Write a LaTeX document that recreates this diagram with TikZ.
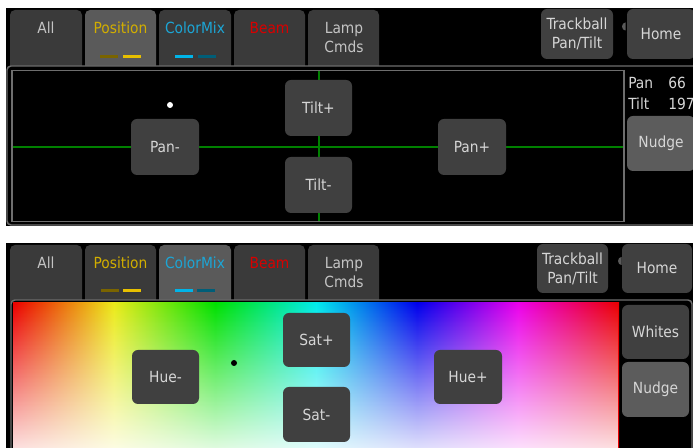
\documentclass[tikz,border=0pt]{standalone}
\usepackage{fontspec}
\setmainfont{DejaVu Sans Condensed}
\usetikzlibrary{fadings}
\definecolor{tabbg}{HTML}{3A3A3A}
\definecolor{tabact}{HTML}{5A5A5A}
\definecolor{btnbg}{HTML}{404040}
\definecolor{btnlt}{HTML}{5C5C5C}
\definecolor{framec}{HTML}{6E6E6E}
\definecolor{txt}{HTML}{D6D6D6}
\definecolor{tabtxt}{HTML}{C4C4C4}
\definecolor{posc}{HTML}{D2AE00}
\definecolor{cmc}{HTML}{1CA6D6}
\definecolor{beamc}{HTML}{D80000}
\definecolor{oliveb}{HTML}{7A6400}
\definecolor{yelb}{HTML}{E8C000}
\definecolor{cyanb}{HTML}{00B4E8}
\definecolor{tealb}{HTML}{005E78}
\definecolor{grn}{HTML}{008000}
\definecolor{hR}{rgb}{0.92,0,0}
\definecolor{hY}{rgb}{0.92,0.92,0.1}
\definecolor{hG}{rgb}{0,0.88,0}
\definecolor{hC}{rgb}{0,0.92,0.92}
\definecolor{hB}{rgb}{0,0,0.92}
\definecolor{hM}{rgb}{0.92,0,0.92}
\pgfdeclarehorizontalshading{huebar}{100bp}{color(0bp)=(hR); color(25bp)=(hR); color(33.33bp)=(hY); color(41.67bp)=(hG); color(50bp)=(hC); color(58.33bp)=(hB); color(66.67bp)=(hM); color(75bp)=(hR); color(100bp)=(hR)}
\tikzset{
  wh/.style 2 args={minimum width=#1*0.75pt, minimum height=#2*0.75pt},
  tabbox/.style={fill=tabbg, rounded corners=3.75pt, inner sep=0pt},
  tabon/.style={tabbox, fill=tabact},
  btn/.style={fill=btnbg, rounded corners=4.5pt, inner sep=0pt, text=txt, align=center, font=\fontsize{11.5}{14.25}\selectfont},
  btnlight/.style={btn, fill=btnlt},
  lbl/.style={inner sep=0pt, align=center, font=\fontsize{11.5}{14.25}\selectfont},
  bar/.style={inner sep=0pt, wh={18}{3}},
  frameline/.style={draw=framec, line width=1.1pt},
  cross/.style={draw=grn, line width=1.5pt},
  notch/.style={fill=tabact}
}
\begin{document}
\begin{tikzpicture}[x=0.75pt,y=-0.75pt]
\useasboundingbox (0,0) rectangle (693,448);
\fill[white] (0,0) rectangle (693,448);
% ================= TOP PANEL =================
\fill[black] (6,8) rectangle (693,226);
\node[tabbox, wh={72}{62}] (tAll) at (46,41) {};
\node[tabon,  wh={71}{62}] (tPos) at (120.5,41) {};
\node[tabbox, wh={72}{62}] (tCM) at (195,41) {};
\node[tabbox, wh={71}{62}] (tBeam) at (269.5,41) {};
\node[tabbox, wh={71}{62}] (tLamp) at (343.5,41) {};
\node[lbl, text=tabtxt] (tAllT) at (46,28) {All};
\node[lbl, text=posc] (tPosT) at (120.5,28) {Position};
\node[lbl, text=cmc] (tCMT) at (195,28) {ColorMix};
\node[lbl, text=beamc] (tBeamT) at (269.5,28) {Beam};
\node[lbl, text=tabtxt] (tLampT) at (344,37.5) {Lamp\\Cmds};
\node[bar, fill=oliveb] (tb1) at (109,56.5) {};
\node[bar, fill=yelb] (tb2) at (132,56.5) {};
\node[bar, fill=cyanb] (tb3) at (184,56.5) {};
\node[bar, fill=tealb] (tb4) at (206.5,56.5) {};
% frame
\draw[frameline, fill=black, rounded corners=3pt] (7,66) rectangle (710,225);
\draw[frameline, fill=black] (12,70.5) rectangle (624,221.5);
% crosshair
\coordinate (hl) at (12.6,147);
\coordinate (hr) at (623.4,147);
\coordinate (vt) at (319,71.1);
\coordinate (vb) at (319,220.9);
\draw[cross] (hl) -- (hr);
\draw[cross] (vt) -- (vb);
\node[circle, fill=white, inner sep=0pt, minimum size=4.5pt] (wdot) at (170,105) {};
\node[btn, wh={68}{56}] (panm) at (165,147) {Pan-};
\node[btn, wh={67}{56}] (tiltp) at (318.5,108) {Tilt+};
\node[btn, wh={67}{56}] (tiltm) at (318.5,185) {Tilt-};
\node[btn, wh={68}{56}] (panp) at (472,147) {Pan+};
% right controls
\node[btn, wh={72}{50}] (track) at (577,34) {Trackball\\Pan/Tilt};
\node[btn, wh={68}{50}] (home) at (661,34) {Home};
\fill[notch] (625.5,30.5) arc[start angle=90, end angle=270, x radius=3.5, y radius=4] -- cycle;
\node[lbl, text=txt, anchor=west] (panlbl) at (628,83) {Pan};
\node[lbl, text=txt, anchor=west] (panval) at (668,83) {66};
\node[lbl, text=txt, anchor=west] (tiltlbl) at (628,104) {Tilt};
\node[lbl, text=txt, anchor=west] (tiltval) at (668,104) {197};
\node[btnlight, wh={68}{55}] (nudge) at (661,143.5) {Nudge};
% ================= BOTTOM PANEL =================
\fill[black] (6,243) rectangle (693,448);
\node[tabbox, wh={72}{62}] (bAll) at (46,276) {};
\node[tabbox, wh={71}{62}] (bPos) at (120.5,276) {};
\node[tabon,  wh={72}{62}] (bCM) at (195,276) {};
\node[tabbox, wh={71}{62}] (bBeam) at (269.5,276) {};
\node[tabbox, wh={71}{62}] (bLamp) at (343.5,276) {};
\node[lbl, text=tabtxt] (bAllT) at (46,263) {All};
\node[lbl, text=posc] (bPosT) at (120.5,263) {Position};
\node[lbl, text=cmc] (bCMT) at (195,263) {ColorMix};
\node[lbl, text=beamc] (bBeamT) at (269.5,263) {Beam};
\node[lbl, text=tabtxt] (bLampT) at (344,272.5) {Lamp\\Cmds};
\node[bar, fill=oliveb] (bb1) at (110,290.5) {};
\node[bar, fill=yelb] (bb2) at (132,290.5) {};
\node[bar, fill=cyanb] (bb3) at (184,290.5) {};
\node[bar, fill=tealb] (bb4) at (206,290.5) {};
\draw[frameline, fill=black, rounded corners=3pt] (11,300) rectangle (692,470);
\shade[shading=huebar] (13,303) rectangle (619,448);
\fill[white, fill opacity=0.88, path fading=north] (13,303) rectangle (619,448);
\node[circle, fill=black, inner sep=0pt, minimum size=4.5pt] (bdot) at (234,363) {};
\node[btn, wh={67}{54}] (huem) at (165.5,377) {Hue-};
\node[btn, wh={67}{54}] (satp) at (316.5,340) {Sat+};
\node[btn, wh={67}{55}] (satm) at (316.5,414.5) {Sat-};
\node[btn, wh={68}{54}] (huep) at (468,377) {Hue+};
\node[btn, wh={71}{49}] (track2) at (572.5,268.5) {Trackball\\Pan/Tilt};
\node[btn, wh={70}{49}] (home2) at (657,268.5) {Home};
\fill[notch] (621.5,265) arc[start angle=90, end angle=270, x radius=3.5, y radius=4] -- cycle;
\node[btn, wh={67}{54}] (whites) at (655.5,332) {Whites};
\node[btnlight, wh={67}{55}] (nudge2) at (655.5,389.5) {Nudge};
\end{tikzpicture}
\end{document}
